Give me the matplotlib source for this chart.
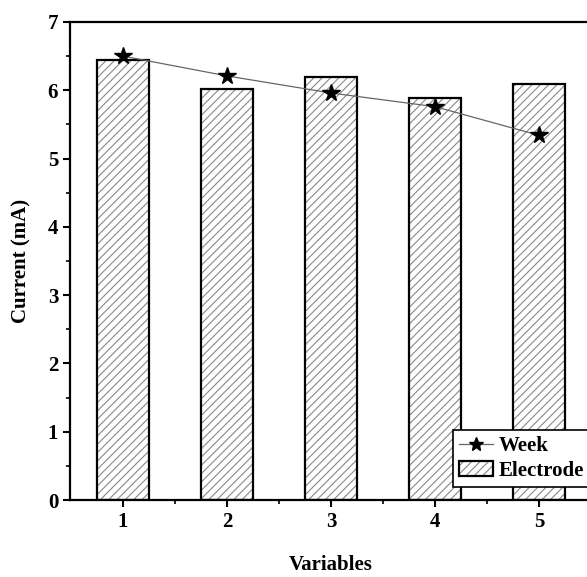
import matplotlib
matplotlib.use("Agg")
import matplotlib.pyplot as plt

# values per variable
variables = [1, 2, 3, 4, 5]
electrode = [6.45, 6.02, 6.19, 5.88, 6.09]
week = [6.50, 6.21, 5.96, 5.76, 5.34]

plt.rcParams["font.family"] = ["Liberation Serif", "DejaVu Serif"]
plt.rcParams["font.weight"] = "bold"
plt.rcParams["hatch.linewidth"] = 0.8

fig = plt.figure(figsize=(5.87, 5.77), dpi=100)
ax = fig.add_axes([0.1193, 0.1334, 0.8875, 0.8285])

# hatch layer (grey) and outline layer (black) drawn separately
hatched = ax.bar(variables, electrode, width=0.5, color="white",
                 edgecolor="#888888", hatch="////", linewidth=0, zorder=2)
outline = ax.bar(variables, electrode, width=0.5, fill=False,
                 edgecolor="black", linewidth=1.6, zorder=3)

line, = ax.plot(variables, week, color="#666666", linewidth=0.9,
                marker="*", markersize=13, markerfacecolor="black",
                markeredgecolor="black", zorder=4)

ax.set_xlim(0.49, 5.5)
ax.set_ylim(0, 7)
ax.set_xticks(variables)
ax.set_xticks([1.5, 2.5, 3.5, 4.5], minor=True)
ax.set_yticks(range(0, 8))
ax.set_yticks([0.5 + i for i in range(7)], minor=True)

for s in ax.spines.values():
    s.set_linewidth(1.6)
ax.tick_params(which="major", direction="out", length=5, width=1.5,
               labelsize=15)
ax.tick_params(which="minor", direction="out", length=3, width=1.2)

ax.set_xlabel("Variables", fontsize=15, fontweight="bold", labelpad=17)
ax.set_ylabel("Current (mA)", fontsize=15, fontweight="bold", labelpad=12)

leg = ax.legend([line, (hatched, outline)], ["Week", "Electrode"],
                loc="upper left", bbox_to_anchor=(0.735, 0.146),
                borderaxespad=0, fancybox=False, edgecolor="black",
                framealpha=1, handlelength=1.6, markerscale=0.8,
                handletextpad=0.3, borderpad=0.3, labelspacing=0.2,
                prop={"weight": "bold", "size": 15})
leg.get_frame().set_linewidth(1.2)
leg.set_zorder(5)

fig.savefig("out.png", dpi=100)
